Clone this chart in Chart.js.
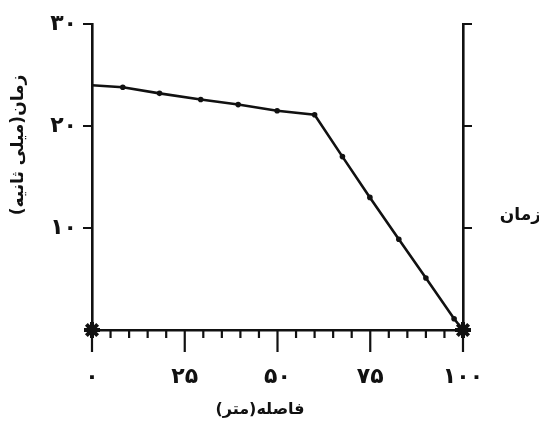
<!DOCTYPE html>
<html>
<head>
<meta charset="utf-8">
<script src="https://cdn.jsdelivr.net/npm/chart.js@4/dist/chart.umd.min.js"></script>
<style>
  html, body { margin: 0; padding: 0; background: #fff; }
  #wrap { width: 539px; height: 421px; position: relative; }
</style>
</head>
<body>
<div id="wrap"><canvas id="chart"></canvas></div>
<script>
// distance (m) and time (ms)
const distance = [0, 8.3, 18.2, 29.3, 39.4, 49.9, 60, 67.5, 74.9, 82.7, 90, 97.6, 100];
const time = [24, 23.8, 23.2, 22.6, 22.1, 21.5, 21.1, 17, 13, 8.9, 5.1, 1.1, 0];

// the two star marks at the ends of the x axis
const endX = [0, 100];
const endY = [0, 0];

const xTickValues = [0, 25, 50, 75, 100];
const xTickLabels = ['۰', '۲۵', '۵۰', '۷۵', '۱۰۰'];
const yTickValues = [10, 20, 30];
const yTickLabels = ['۱۰', '۲۰', '۳۰'];

const xTitle = 'فاصله(متر)';
const yTitle = 'زمان(میلی ثانیه)';
const rightTitle = 'زمان';

Chart.defaults.font.family = '"DejaVu Sans", sans-serif';
Chart.defaults.color = '#111';
Chart.defaults.animation = false;

// tick marks and axis titles
const decor = {
  id: 'decor',
  afterDraw(chart) {
    const c = chart.ctx;
    const x = chart.scales.x, y = chart.scales.y;
    const area = chart.chartArea;
    const base = y.getPixelForValue(0);
    c.save();
    c.strokeStyle = '#111';
    c.lineWidth = 2.2;
    c.beginPath();
    for (let v = 0; v <= 100; v += 5) {
      const px = x.getPixelForValue(v);
      const len = v % 25 === 0 ? 22 : 8;
      c.moveTo(px, base);
      c.lineTo(px, base + len);
    }
    yTickValues.forEach(v => {
      const py = y.getPixelForValue(v);
      c.moveTo(area.left - 9, py);
      c.lineTo(area.left, py);
      c.moveTo(area.right, py);
      c.lineTo(area.right + 9, py);
    });
    c.stroke();

    c.fillStyle = '#111';
    c.font = 'bold 16px "DejaVu Sans"';
    c.textAlign = 'center';
    c.textBaseline = 'middle';
    c.fillText(xTitle, 260, 410);

    c.font = 'bold 17px "DejaVu Sans"';
    c.textAlign = 'right';
    c.fillText(rightTitle, 541, 216);

    c.translate(19, 145);
    c.rotate(-Math.PI / 2);
    c.textAlign = 'center';
    c.fillText(yTitle, 0, 0);
    c.restore();
  }
};

const noPad = s => { s.paddingTop = 0; s.paddingBottom = 0; s.paddingLeft = 0; s.paddingRight = 0; };

new Chart(document.getElementById('chart'), {
  type: 'scatter',
  data: {
    datasets: [
      {
        data: distance.map((d, i) => ({ x: d, y: time[i] })),
        showLine: true,
        borderColor: '#111',
        backgroundColor: '#111',
        borderWidth: 2.6,
        pointRadius: ctx => (ctx.dataIndex === 0 || ctx.dataIndex === distance.length - 1 ? 0 : 2.8),
        pointBorderWidth: 0,
        clip: false
      },
      {
        data: endX.map((d, i) => ({ x: d, y: endY[i] })),
        pointStyle: 'star',
        pointRadius: 8,
        borderColor: '#111',
        backgroundColor: '#111',
        pointBorderWidth: 4,
        clip: false
      }
    ]
  },
  options: {
    responsive: true,
    maintainAspectRatio: false,
    layout: { padding: { left: 0, right: 76, top: 24, bottom: 0 } },
    plugins: { legend: { display: false }, tooltip: { enabled: false } },
    scales: {
      x: {
        type: 'linear',
        min: 0,
        max: 100,
        afterFit: s => { s.height = 91; noPad(s); },
        afterBuildTicks: s => { s.ticks = xTickValues.map(v => ({ value: v })); },
        grid: { display: false, drawTicks: false },
        border: { display: true, color: '#111', width: 2.6 },
        ticks: {
          padding: 34,
          maxRotation: 0,
          font: { size: 22, weight: 'bold' },
          callback: v => xTickLabels[xTickValues.indexOf(v)]
        }
      },
      y: {
        type: 'linear',
        min: 0,
        max: 30,
        afterFit: s => { s.width = 92; noPad(s); },
        afterBuildTicks: s => { s.ticks = yTickValues.map(v => ({ value: v })); },
        grid: { display: false, drawTicks: false },
        border: { display: true, color: '#111', width: 2.6 },
        ticks: {
          padding: 15,
          font: { size: 22, weight: 'bold' },
          callback: v => yTickLabels[yTickValues.indexOf(v)]
        }
      },
      y2: {
        type: 'linear',
        position: 'right',
        min: 0,
        max: 30,
        afterFit: s => { s.width = 0; noPad(s); },
        grid: { display: false, drawTicks: false },
        border: { display: true, color: '#111', width: 2.6 },
        ticks: { display: false }
      }
    }
  },
  plugins: [decor]
});
</script>
</body>
</html>
